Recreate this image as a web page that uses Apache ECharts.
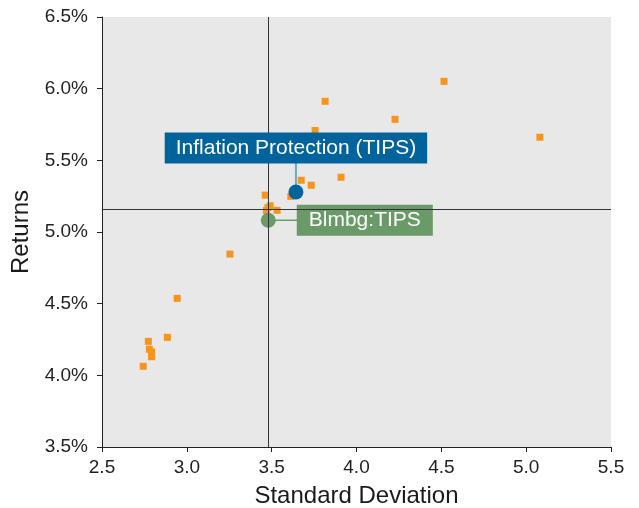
<!DOCTYPE html>
<html>
<head>
<meta charset="utf-8">
<script src="https://cdn.jsdelivr.net/npm/echarts@6/dist/echarts.min.js"></script>
<style>
html,body{margin:0;padding:0;background:#fff;}
#chart{width:639px;height:508px;}
</style>
</head>
<body>
<div id="chart"></div>
<script>
// Peer universe (standard deviation, return %)
const peerStdDev = [4.516, 3.815, 4.227, 3.756, 5.081, 3.909, 3.674, 3.733, 3.462, 3.613, 3.491, 3.532, 3.469, 3.478, 3.254, 2.943, 2.885, 2.773, 2.779, 2.792, 2.792, 2.743];
const peerReturn = [6.051, 5.912, 5.786, 5.708, 5.661, 5.382, 5.361, 5.326, 5.257, 5.248, 5.183, 5.151, 5.150, 5.170, 4.846, 4.537, 4.265, 4.237, 4.182, 4.163, 4.130, 4.063];
// Highlighted series
const fundName = "Inflation Protection (TIPS)";
const fundPoint = [3.643, 5.279];
const benchName = "Blmbg:TIPS";
const benchPoint = [3.480, 5.082];
// Reference (median) lines
const medianStdDev = 3.485;
const medianReturn = 5.156;
// Axis ticks
const xTicks = [2.5, 3.0, 3.5, 4.0, 4.5, 5.0, 5.5];
const yTicks = [3.5, 4.0, 4.5, 5.0, 5.5, 6.0, 6.5];

const peerData = peerStdDev.map((v, i) => [v, peerReturn[i]]);
const FONT = '"Liberation Sans", Arial, sans-serif';
const BLUE = '#00639c', GREEN = '#6a9a67', ORANGE = '#f7941d';

const chart = echarts.init(document.getElementById('chart'), null, {renderer: 'canvas'});
chart.setOption({
  animation: false,
  grid: {left: 102, right: 28, top: 17, bottom: 61, show: true, backgroundColor: '#e8e8e8', borderWidth: 0,
         containLabel: false, outerBoundsMode: 'none'},
  xAxis: {
    type: 'value', min: xTicks[0], max: xTicks[xTicks.length - 1], interval: 0.5,
    name: 'Standard Deviation', nameLocation: 'middle', nameGap: 49,
    nameTextStyle: {fontFamily: FONT, fontSize: 24, color: '#1a1a1a', verticalAlign: 'middle'},
    axisLine: {show: true, lineStyle: {color: '#222', width: 1}},
    axisTick: {show: true, length: 5, lineStyle: {color: '#222'}},
    axisLabel: {fontFamily: FONT, fontSize: 19, color: '#1f1f1f', margin: 11, formatter: v => v.toFixed(1)},
    splitLine: {show: false}
  },
  yAxis: {
    type: 'value', min: yTicks[0], max: yTicks[yTicks.length - 1], interval: 0.5,
    name: 'Returns', nameLocation: 'middle', nameGap: 74,
    nameTextStyle: {fontFamily: FONT, fontSize: 24, color: '#1a1a1a', verticalAlign: 'middle'},
    axisLine: {show: true, lineStyle: {color: '#222', width: 1}},
    axisTick: {show: true, length: 5, lineStyle: {color: '#222'}},
    axisLabel: {fontFamily: FONT, fontSize: 19, color: '#1f1f1f', margin: 14, formatter: v => v.toFixed(1) + '%'},
    splitLine: {show: false}
  },
  series: [
    {
      type: 'scatter', data: peerData, symbol: 'rect', symbolSize: 7,
      itemStyle: {color: ORANGE, opacity: 1}, z: 2,
      markLine: {
        silent: true, symbol: ['none', 'none'], label: {show: false},
        lineStyle: {color: '#333', width: 1, type: 'solid'},
        data: [{xAxis: medianStdDev}, {yAxis: medianReturn}]
      }
    },
    {
      type: 'scatter', data: [benchPoint], symbol: 'circle', symbolSize: 15, z: 4,
      itemStyle: {color: GREEN, opacity: 1},
      label: {show: true, position: 'right', distance: 21, formatter: benchName,
        fontFamily: FONT, fontSize: 21, color: '#fff', backgroundColor: GREEN,
        padding: [5, 12, 5, 12]}
    },
    {
      type: 'scatter', data: [fundPoint], symbol: 'circle', symbolSize: 15, z: 5,
      itemStyle: {color: BLUE, opacity: 1},
      label: {show: true, position: 'top', distance: 21, formatter: fundName,
        fontFamily: FONT, fontSize: 21, color: '#fff', backgroundColor: BLUE,
        padding: [5, 11, 5, 11]}
    }
  ]
});

// Connector lines from the highlighted points to their labels (positions from the library's scales)
const fp = chart.convertToPixel({xAxisIndex: 0, yAxisIndex: 0}, fundPoint);
const bp = chart.convertToPixel({xAxisIndex: 0, yAxisIndex: 0}, benchPoint);
chart.setOption({
  graphic: [
    {type: 'line', z: 3, silent: true, shape: {x1: fp[0], y1: fp[1] - 29, x2: fp[0], y2: fp[1]},
     style: {stroke: '#6aa6cf', lineWidth: 2}},
    {type: 'line', z: 3, silent: true, shape: {x1: bp[0], y1: bp[1], x2: bp[0] + 29, y2: bp[1]},
     style: {stroke: GREEN, lineWidth: 1.5}}
  ]
});
</script>
</body>
</html>
